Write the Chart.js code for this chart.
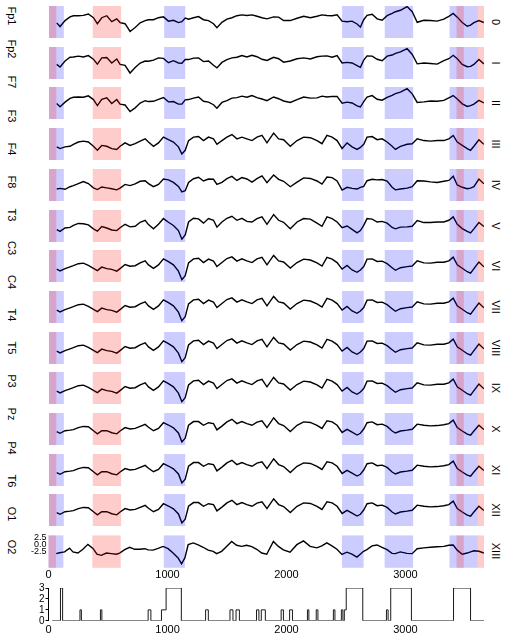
<!DOCTYPE html>
<html>
<head>
<meta charset="utf-8">
<script src="https://cdn.jsdelivr.net/npm/chart.js@4.4.1/dist/chart.umd.min.js"></script>
<style>
  body { margin: 0; background: #fff; }
  #wrap { position: relative; width: 510px; height: 640px; overflow: hidden; font-family: "Liberation Sans", Arial, sans-serif; }
  #wrap canvas { position: absolute; }
  .lab { position: absolute; font-size: 11px; color: #000; white-space: nowrap; transform: translate(-50%, -50%) rotate(90deg); }
</style>
</head>
<body>
<div id="wrap"></div>
<script>
// sample times (x) shared by all traces
const sampleTimes = [65, 93, 135, 177, 205, 247, 289, 331, 374, 407,
  444, 486, 528, 570, 598, 640, 682, 725, 767, 809,
  837, 879, 921, 963, 1005, 1047, 1089, 1118, 1146, 1174,
  1216, 1258, 1300, 1342, 1384, 1413, 1455, 1497, 1539, 1581,
  1623, 1665, 1708, 1750, 1792, 1834, 1890, 1932, 1974, 2030,
  2087, 2143, 2199, 2255, 2297, 2339, 2382, 2424, 2466, 2508,
  2550, 2592, 2620, 2648, 2676, 2719, 2761, 2803, 2845, 2887,
  2915, 2957, 3013, 3056, 3098, 3154, 3210, 3266, 3322, 3364,
  3401, 3435, 3477, 3519, 3547, 3575, 3617, 3659];

const traceFp1 = [-2.7, -4.0, -1.9, -0.6, -0.2, -0.2, -0.1, 0.4, -0.9, -3.0,
  -0.9, -0.2, -2.3, -1.3, -2.6, -3.0, -5.7, -4.3, -2.7, -1.9,
  -1.6, -1.6, -0.9, -0.6, -2.1, -1.8, -2.6, -2.3, -1.0, -1.4,
  -0.9, -0.5, -1.6, -1.9, -3.0, -4.4, -2.5, -1.4, -0.9, -0.2,
  0.1, -0.1, 0.1, -0.4, -0.9, -1.3, -0.6, -0.7, -1.9, -1.9,
  -1.1, -0.4, -0.9, -0.4, 0.1, -0.1, -0.2, 0.1, -2.1, -2.3,
  -2.1, -3.1, -4.2, -1.6, -0.1, 0.3, -1.3, -1.8, -0.2, 0.6,
  1.2, 1.7, 3.0, 1.2, -2.5, -1.8, -1.9, -2.1, -1.4, -0.4,
  0.6, -0.7, -2.6, -3.9, -3.5, -2.6, -1.9, -2.6];

const traceFp2 = [-2.9, -3.8, -1.7, -0.4, -0.3, 0.0, -0.3, 0.2, -1.1, -2.8,
  -0.6, -0.5, -2.4, -1.0, -2.9, -3.2, -5.9, -4.0, -2.4, -1.7,
  -1.8, -1.4, -0.6, -0.8, -2.3, -1.6, -2.4, -2.5, -1.2, -1.2,
  -0.7, -0.6, -1.9, -1.7, -3.2, -4.1, -2.2, -1.2, -0.6, -0.4,
  0.2, -0.3, 0.3, -0.2, -1.1, -1.5, -0.4, -0.9, -2.1, -1.7,
  -0.9, -0.6, -1.0, -0.2, 0.0, 0.1, -0.4, 0.2, -2.4, -2.2,
  -2.4, -3.3, -3.9, -1.4, 0.1, 0.0, -1.1, -1.6, 0.0, 0.4,
  1.0, 1.5, 2.6, 0.6, -2.7, -2.4, -2.6, -2.8, -1.6, -0.9,
  0.3, -0.9, -2.9, -3.7, -3.6, -2.9, -1.2, -2.7];

const traceF7 = [-2.6, -3.7, -2.1, -0.8, -0.4, -0.3, -0.4, 0.1, -1.2, -3.3,
  -1.1, -0.6, -2.6, -1.2, -2.8, -3.1, -5.4, -4.1, -2.4, -1.6,
  -1.9, -1.8, -1.1, -0.5, -2.0, -1.9, -2.8, -2.8, -1.3, -1.2,
  -0.7, -0.3, -1.8, -2.1, -3.0, -4.2, -2.2, -1.6, -0.7, -0.5,
  0.0, -0.4, 0.2, -0.5, -1.0, -1.6, -0.3, -0.9, -1.7, -2.2,
  -1.2, -0.3, -0.7, -0.6, 0.0, -0.3, -0.1, -0.1, -2.5, -2.1,
  -2.4, -3.4, -3.8, -1.9, -0.3, 0.2, -1.1, -1.4, -0.4, 0.3,
  0.9, 1.4, 2.6, 0.8, -2.2, -2.0, -1.7, -1.8, -1.5, -0.6,
  0.2, -1.0, -2.7, -3.6, -3.3, -2.8, -1.5, -2.4];

const traceF3 = [-3.4, -4.0, -3.4, -3.2, -2.5, -1.7, -1.4, -1.7, -3.2, -4.6,
  -2.9, -3.2, -4.0, -4.3, -3.2, -2.0, -2.9, -2.3, -1.4, -0.6,
  -1.7, -3.2, -2.0, 0.0, -0.9, -1.7, -3.4, -5.9, -4.6, -1.2,
  0.0, 0.2, -1.2, 0.0, -0.6, -2.5, -1.2, 0.0, 0.9, -0.6,
  0.0, -0.6, -1.2, 0.0, 0.6, -2.0, 1.4, -0.6, -0.9, -3.2,
  -1.2, 0.0, -0.2, -1.2, -2.3, 0.6, 0.0, -1.2, -4.0, -2.0,
  -3.4, -4.3, -3.6, -2.5, 0.0, 0.2, -0.9, -0.6, -1.7, -3.2,
  -4.3, -3.2, -2.5, -2.3, -0.6, -1.2, -1.4, -1.2, -1.2, -0.6,
  0.6, -1.7, -2.9, -4.0, -4.6, -3.2, -0.9, -2.5];

const traceF4 = [-3.8, -3.6, -3.9, -3.0, -2.6, -1.9, -1.2, -1.9, -3.4, -4.0,
  -3.1, -3.4, -3.7, -4.1, -3.5, -2.2, -2.6, -2.0, -1.1, -0.9,
  -1.9, -3.0, -2.2, -0.3, -0.6, -1.5, -2.9, -4.8, -4.4, -1.5,
  -0.2, 0.3, -1.0, -0.3, -0.4, -2.2, -1.5, -0.2, 0.6, -0.8,
  0.2, -0.3, -1.4, -0.2, 0.8, -1.6, 1.1, -0.4, -1.1, -3.0,
  -1.4, 0.1, -0.1, -1.0, -2.1, 0.4, 0.2, -1.0, -4.2, -3.2,
  -3.6, -3.8, -3.2, -2.9, -0.9, -0.4, -0.6, -0.5, -1.0, -3.2,
  -4.1, -3.8, -3.5, -3.0, -0.9, -1.0, -1.3, -1.5, -1.1, -0.8,
  0.7, -2.4, -3.2, -3.7, -3.5, -3.0, -0.3, -2.0];

const traceF8 = [-3.7, -4.3, -3.1, -2.9, -2.2, -1.5, -1.6, -2.0, -3.4, -4.2,
  -2.6, -3.1, -3.8, -4.0, -3.0, -1.8, -2.7, -2.5, -1.1, -0.4,
  -1.9, -3.4, -1.8, 0.2, -1.1, -2.2, -4.0, -7.0, -5.5, -1.0,
  0.3, 0.1, -1.4, 0.2, -0.4, -2.8, -1.0, 0.3, 1.0, -0.4,
  0.3, -0.8, -1.0, 0.2, 0.8, -1.8, 1.6, -0.4, -1.1, -3.4,
  -1.0, 0.2, 0.0, -1.4, -2.5, 0.8, 0.2, -1.0, -3.0, -2.4,
  -3.6, -4.8, -4.0, -2.2, 0.2, 0.0, -1.0, -0.8, -1.4, -2.9,
  -3.4, -2.8, -2.7, -2.5, -0.5, -1.2, -1.2, -1.0, -1.0, -0.4,
  0.8, -1.8, -3.3, -4.3, -4.8, -3.4, -1.2, -2.6];

const traceT3 = [-3.5, -4.1, -3.3, -2.7, -2.3, -1.6, -1.4, -2.2, -3.2, -4.0,
  -2.8, -3.3, -3.6, -4.2, -3.3, -1.9, -2.5, -2.3, -1.3, -0.6,
  -2.0, -3.2, -2.0, 0.1, -0.9, -2.0, -4.2, -7.2, -5.8, -1.3,
  0.1, 0.3, -1.2, 0.0, -0.7, -2.6, -1.2, 0.2, 0.8, -0.7,
  0.1, -0.6, -1.2, 0.1, 0.6, -2.0, 1.3, -0.6, -1.0, -3.1,
  -1.2, 0.0, -0.3, -1.3, -2.4, 0.6, 0.0, -1.2, -3.5, -2.2,
  -3.8, -4.6, -3.8, -2.6, 0.0, 0.1, -0.8, -0.7, -1.6, -3.0,
  -3.9, -3.0, -2.6, -2.4, -0.6, -1.3, -1.4, -1.1, -1.1, -0.6,
  0.7, -2.0, -3.2, -4.4, -4.9, -3.3, -1.0, -2.7];

const traceP3 = [-3.3, -3.9, -3.0, -2.8, -2.6, -1.9, -1.5, -1.6, -3.0, -4.1,
  -3.0, -3.0, -3.7, -4.1, -3.1, -1.9, -2.4, -2.2, -1.5, -0.8,
  -1.8, -3.0, -2.2, -0.2, -1.0, -2.0, -3.8, -6.9, -5.6, -1.1,
  0.2, 0.2, -1.1, -0.2, -0.5, -2.7, -1.4, 0.1, 1.0, -0.5,
  0.2, -0.5, -1.1, 0.0, 0.5, -1.9, 1.5, -0.5, -1.2, -3.3,
  -1.1, 0.1, -0.1, -1.1, -2.2, 0.5, 0.1, -1.1, -3.6, -2.5,
  -3.5, -4.5, -3.9, -2.4, -0.2, 0.1, -0.9, -0.7, -1.5, -3.1,
  -3.8, -3.1, -2.8, -2.5, -0.7, -1.1, -1.3, -1.2, -0.9, -0.5,
  0.7, -1.9, -3.1, -4.2, -4.6, -3.1, -1.1, -2.6];

const traceO2 = [-3.1, -2.8, -2.5, -1.2, -2.5, -2.9, -1.6, 0.1, -1.3, -3.3,
  -3.7, -2.9, -3.1, -3.3, -2.9, -1.7, -0.9, -1.6, -1.6, -1.4,
  -1.8, -1.9, -1.3, -0.6, -1.4, -2.9, -4.6, -6.6, -4.6, 0.0,
  0.6, -0.1, -0.9, -1.9, -2.3, -3.1, -2.3, -0.6, 1.1, -0.2,
  -0.6, -0.2, -0.7, -1.6, -2.9, -3.3, 1.1, -0.6, -1.8, -2.6,
  0.0, 1.3, -0.6, -1.1, -0.4, 0.6, -0.4, -1.6, -3.4, -2.6,
  -3.3, -4.3, -3.3, -2.3, -1.7, -0.4, -0.1, -0.9, -1.7, -3.0,
  -3.1, -2.5, -3.0, -3.1, -1.4, -1.1, -0.9, -0.7, -0.6, -0.2,
  -0.1, -1.9, -3.3, -2.9, -2.5, -2.1, -2.3, -2.9];

// one trace per row, top to bottom
const rowTraces = [traceFp1, traceFp2, traceF7, traceF3, traceF4, traceF8,
  traceT3, traceT3, traceT3, traceT3, traceP3, traceP3, traceP3, traceO2];
const rowNumerals = ['0', 'I', 'II', 'III', 'IV', 'V', 'VI', 'VII', 'VIII', 'IX', 'X', 'XI', 'XII', 'XIII'];
const channelNames = ['Fp1', 'Fp2', 'F7', 'F3', 'F4', 'F8', 'T3', 'C3', 'C4', 'T4', 'T5', 'P3', 'Pz', 'P4', 'T6', 'O1', 'O2'];

const timeTicks = [0, 1000, 2000, 3000];
const ampTicks = [-2.5, 0, 2.5];
const stateTicks = [0, 1, 2, 3];

// shaded segments [start, end]
const blueSpans = [[0, 125], [969, 1146], [2466, 2648], [2825, 3064], [3370, 3608]];
const redSpans = [[0, 62], [368, 607], [3429, 3490], [3608, 3660]];

// bottom state track (level holds until the next time)
const stateTimes = [30, 100, 118, 264, 276, 436, 448, 837, 860, 949,
  988, 1116, 1320, 1343, 1525, 1550, 1576, 1604, 1748, 1768,
  1788, 1822, 1955, 1974, 2026, 2050, 2176, 2188, 2250, 2264,
  2394, 2407, 2461, 2474, 2486, 2502, 2641, 2840, 2854, 2876,
  3050, 3404, 3547, 3660];
const stateLevels = [0, 3, 0, 1, 0, 1, 0, 1, 0, 1,
  3, 0, 1, 0, 1, 0, 1, 0, 1, 0,
  1, 0, 1, 0, 1, 0, 1, 0, 1, 0,
  1, 0, 1, 0, 1, 3, 0, 1, 0, 3,
  0, 3, 0, 0];

const X_MIN = 0, X_MAX = 3660;
const AMP_MIN = -8, AMP_MAX = 3.2;

Chart.defaults.font.family = '"Liberation Sans", Arial, sans-serif';
Chart.defaults.color = '#000';

const wrap = document.getElementById('wrap');

// shading boxes drawn over the trace
const shadePlugin = {
  id: 'shade',
  afterDatasetsDraw(chart) {
    const { ctx, chartArea: a, scales: { x } } = chart;
    ctx.save();
    const paint = (spans, color) => {
      ctx.fillStyle = color;
      spans.forEach(([s, e]) => {
        const x0 = x.getPixelForValue(s);
        const x1 = x.getPixelForValue(e);
        ctx.fillRect(x0, a.top, x1 - x0, a.bottom - a.top);
      });
    };
    paint(blueSpans, 'rgba(0,0,255,0.2)');
    paint(redSpans, 'rgba(255,0,0,0.2)');
    ctx.restore();
  }
};

const timeAxis = (padding) => ({
  type: 'linear', min: X_MIN, max: X_MAX,
  grid: { display: false, drawTicks: false }, border: { display: false },
  ticks: { font: { size: 11 }, padding: padding, maxRotation: 0, autoSkip: false, callback: v => String(v) },
  afterBuildTicks: s => { s.ticks = timeTicks.map(v => ({ value: v })); }
});

function rowConfig(values, withAxes) {
  const x = timeAxis(1);
  x.display = withAxes;
  return {
    type: 'line',
    data: {
      datasets: [{
        data: sampleTimes.map((t, i) => ({ x: t, y: values[i] })),
        borderColor: '#000',
        borderWidth: 1.4,
        pointRadius: 0,
        tension: 0,
        fill: false
      }]
    },
    options: {
      responsive: false,
      animation: false,
      events: [],
      layout: { padding: 0 },
      plugins: { legend: { display: false }, tooltip: { enabled: false } },
      scales: {
        x: x,
        y: {
          min: AMP_MIN, max: AMP_MAX, display: withAxes,
          grid: { display: false, drawTicks: false }, border: { display: false },
          ticks: { font: { size: 9 }, padding: 2, autoSkip: false, callback: v => Number(v).toFixed(1) },
          afterBuildTicks: s => { s.ticks = ampTicks.map(v => ({ value: v })); }
        }
      }
    },
    plugins: [shadePlugin]
  };
}

function stateConfig() {
  return {
    type: 'line',
    data: {
      datasets: [{
        data: stateTimes.map((t, i) => ({ x: t, y: stateLevels[i] })),
        stepped: true,
        borderColor: '#1a1a1a',
        borderWidth: 1,
        pointRadius: 0,
        fill: false
      }]
    },
    options: {
      responsive: false,
      animation: false,
      events: [],
      layout: { padding: 0 },
      plugins: { legend: { display: false }, tooltip: { enabled: false } },
      scales: {
        x: timeAxis(3),
        y: {
          min: 0, max: 3,
          grid: { display: true, drawOnChartArea: false, drawTicks: true, tickLength: 3, color: '#000' },
          border: { display: true, color: '#000', width: 1 },
          ticks: { font: { size: 10 }, padding: 1, autoSkip: false },
          afterBuildTicks: s => { s.ticks = stateTicks.map(v => ({ value: v })); }
        }
      }
    }
  };
}

// build a chart so its plot area lands on the given box
function place(cfgFn, area) {
  const probe = document.createElement('canvas');
  probe.width = area.w + 120;
  probe.height = area.h + 60;
  wrap.appendChild(probe);
  const p = new Chart(probe, cfgFn());
  const ca = p.chartArea;
  const extraW = probe.width - (ca.right - ca.left);
  const extraH = probe.height - (ca.bottom - ca.top);
  p.destroy();
  probe.remove();

  const cv = document.createElement('canvas');
  cv.width = Math.round(area.w + extraW);
  cv.height = Math.round(area.h + extraH);
  wrap.appendChild(cv);
  const chart = new Chart(cv, cfgFn());
  cv.style.left = Math.round(area.x - chart.chartArea.left) + 'px';
  cv.style.top = Math.round(area.y - chart.chartArea.top) + 'px';
  return chart;
}

const PLOT_X = 49, PLOT_W = 435, ROW_H = 32;
const rowTop = i => Math.round(6 + i * 40.7);

rowTraces.forEach((vals, i) => {
  const last = i === rowTraces.length - 1;
  place(() => rowConfig(vals, last), { x: PLOT_X, y: rowTop(i), w: PLOT_W, h: ROW_H });

  const num = document.createElement('div');
  num.className = 'lab';
  num.textContent = rowNumerals[i];
  num.style.left = '496px';
  num.style.top = (rowTop(i) + ROW_H / 2) + 'px';
  wrap.appendChild(num);
});

place(stateConfig, { x: PLOT_X, y: 588, w: PLOT_W, h: 33 });

channelNames.forEach((name, i) => {
  const el = document.createElement('div');
  el.className = 'lab';
  el.textContent = name;
  el.style.left = '12px';
  el.style.top = (16 + i * 33.2) + 'px';
  wrap.appendChild(el);
});
</script>
</body>
</html>
